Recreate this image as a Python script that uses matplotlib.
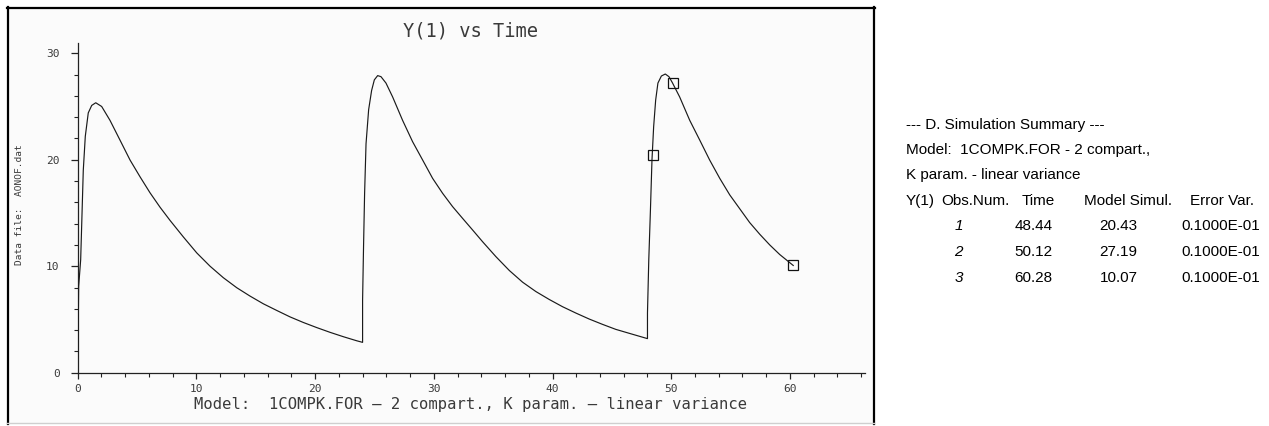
import matplotlib
matplotlib.use('Agg')
import matplotlib.pyplot as plt
from matplotlib.lines import Line2D
from matplotlib.patches import Rectangle
from matplotlib.ticker import MultipleLocator

# ---------------- data ----------------
curve_time = [0.02, 0.08, 0.25, 0.34, 0.47, 0.64, 0.89, 1.18, 1.52, 2.02, 2.72, 3.56,
              4.41, 5.25, 6.09, 6.93, 7.78, 8.9, 10.03, 11.15, 12.27, 13.4, 14.51,
              15.64, 16.76, 17.89, 19.0, 20.13, 21.26, 22.38, 23.5, 24.0,
              24.0, 24.08, 24.17, 24.29, 24.51, 24.76, 24.99, 25.27, 25.55, 25.97,
              26.53, 27.37, 28.21, 29.06, 29.9, 30.74, 31.58, 32.42, 33.27, 34.11,
              35.23, 36.36, 37.48, 38.6, 39.72, 40.84, 41.97, 43.09, 44.21, 45.33,
              46.46, 48.0,
              48.0, 48.11, 48.25, 48.38, 48.52, 48.69, 48.88, 49.17, 49.5, 49.81,
              50.1, 50.71, 51.56, 52.4, 53.24, 54.09, 54.93, 55.77, 56.61, 57.46,
              58.3, 59.14, 60.28]
curve_conc = [1.9, 8.1, 10.6, 14.0, 19.0, 22.2, 24.4, 25.1, 25.35, 25.0, 23.7, 21.85,
              19.97, 18.4, 16.9, 15.55, 14.3, 12.75, 11.25, 10.0, 8.92, 7.98, 7.2,
              6.47, 5.85, 5.24, 4.72, 4.24, 3.79, 3.38, 3.0, 2.85,
              6.8, 11.8, 16.85, 21.5, 24.7, 26.5, 27.5, 27.9, 27.8, 27.2,
              25.9, 23.7, 21.7, 19.97, 18.25, 16.85, 15.6, 14.5, 13.4, 12.3,
              10.9, 9.6, 8.5, 7.62, 6.88, 6.2, 5.6, 5.04, 4.54, 4.07,
              3.7, 3.2,
              5.6, 10.6, 15.3, 20.0, 23.1, 25.6, 27.2, 27.86, 28.05, 27.8,
              27.23, 25.9, 23.7, 21.85, 19.97, 18.25, 16.7, 15.4, 14.1, 13.0,
              12.0, 11.1, 10.07]

obs_num = ['1', '2', '3']
obs_time = [48.44, 50.12, 60.28]
obs_value = [20.43, 27.19, 10.07]
obs_error = ['0.1000E-01', '0.1000E-01', '0.1000E-01']

x_major = [0, 10, 20, 30, 40, 50, 60]
y_major = [0, 10, 20, 30]

title = 'Y(1) vs Time'
xlabel = 'Model:  1COMPK.FOR \u2014 2 compart., K param. \u2014 linear variance'
ylabel = 'Data file:  AONOF.dat'
summary_lines = ['--- D. Simulation Summary ---',
                 'Model:  1COMPK.FOR - 2 compart.,',
                 'K param. - linear variance']
table_header = ['Y(1)', 'Obs.Num.', 'Time', 'Model Simul.', 'Error Var.']

# ---------------- figure ----------------
W, H = 1269, 426
fig = plt.figure(figsize=(W / 100, H / 100), dpi=100)
fig.patch.set_facecolor('white')


def fx(px):
    return px / W


def fy(py):
    return 1 - py / H


# framed plot panel
fig.add_artist(Rectangle((fx(7), fy(423)), fx(874) - fx(7), fy(7) - fy(423),
                         transform=fig.transFigure, facecolor='#fbfbfb',
                         edgecolor='none', zorder=0))
fig.add_artist(Line2D([fx(7.5), fx(7.5)], [fy(7), fy(424)], color='black', lw=1.6))
fig.add_artist(Line2D([fx(7), fx(875)], [fy(7.5), fy(7.5)], color='black', lw=1.6))
fig.add_artist(Line2D([fx(874), fx(874)], [fy(7), fy(424)], color='black', lw=1.6))
fig.add_artist(Line2D([fx(7), fx(874)], [fy(423), fy(423)], color='#cfcfcf', lw=1.0))

ax = fig.add_axes([fx(77.7), fy(372.7), fx(864.7) - fx(77.7), fy(42.6) - fy(372.7)])
ax.patch.set_alpha(0)
ax.plot(curve_time, curve_conc, color='#1a1a1a', lw=0.85, zorder=3)
ax.plot(obs_time, obs_value, linestyle='none', marker='s', markersize=7.8,
        markerfacecolor='none', markeredgecolor='#111111', markeredgewidth=0.9, zorder=4)

ax.set_xlim(0, 66.3)
ax.set_ylim(0, 31)
ax.set_xticks(x_major)
ax.set_yticks(y_major)
ax.xaxis.set_minor_locator(MultipleLocator(2))
ax.yaxis.set_minor_locator(MultipleLocator(2))
for s in ['top', 'right']:
    ax.spines[s].set_visible(False)
for s in ['left', 'bottom']:
    ax.spines[s].set_color('#222222')
    ax.spines[s].set_linewidth(0.9)

mono = 'DejaVu Sans Mono'
ax.tick_params(axis='both', which='major', direction='out', width=0.9,
               color='#222222', labelsize=8, labelcolor='#3a3a3a')
ax.tick_params(axis='both', which='minor', direction='out', length=2.8, width=0.8,
               color='#222222')
ax.tick_params(axis='x', which='major', length=4, pad=4)
ax.tick_params(axis='y', which='major', length=5, pad=8)
for lab in ax.get_xticklabels() + ax.get_yticklabels():
    lab.set_family(mono)

fig.text(fx(470.5), fy(31), title, ha='center', va='center', family=mono,
         fontsize=13.5, color='#3a3a3a')
fig.text(fx(471), fy(404), xlabel, ha='center', va='center', family=mono,
         fontsize=11.2, color='#3a3a3a')
fig.text(fx(20), fy(205), ylabel, ha='center', va='center', rotation=90,
         family=mono, fontsize=6.8, color='#3a3a3a')

# ---------------- summary text ----------------
sans = ['Liberation Sans', 'DejaVu Sans']
fs = 11
line_y = [124.5, 150, 175.5]
for txt, yy in zip(summary_lines, line_y):
    fig.text(fx(906), fy(yy), txt, ha='left', va='center', family=sans,
             fontsize=fs, color='black')

header_x = [906, 975, 1038, 1128.5, 1222]
header_ha = ['left', 'center', 'center', 'center', 'center']
for txt, xx, ha in zip(table_header, header_x, header_ha):
    fig.text(fx(xx), fy(200.5), txt, ha=ha, va='center', family=sans,
             fontsize=fs, color='black')

row_y = [226, 252, 278]
for n, t, v, e, yy in zip(obs_num, obs_time, obs_value, obs_error, row_y):
    fig.text(fx(958.5), fy(yy), n, ha='center', va='center', family=sans,
             fontsize=fs, style='italic', color='black')
    fig.text(fx(1033.5), fy(yy), f'{t:.2f}', ha='center', va='center', family=sans,
             fontsize=fs, color='black')
    fig.text(fx(1118.5), fy(yy), f'{v:.2f}', ha='center', va='center', family=sans,
             fontsize=fs, color='black')
    fig.text(fx(1221), fy(yy), e, ha='center', va='center', family=sans,
             fontsize=fs, color='black')

fig.savefig('out.png', dpi=100)
